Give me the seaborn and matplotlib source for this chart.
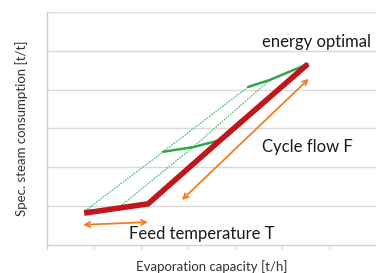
import matplotlib
matplotlib.use("Agg")
import matplotlib.pyplot as plt
import seaborn as sns
import pandas as pd

sns.set_theme(style="white")
plt.rcParams['font.family'] = ['Lato', 'DejaVu Sans']

# Main operating line (red)
red_x = [0.79, 2.15, 3.64, 5.55]
red_y = [0.82, 1.06, 2.65, 4.66]
# Dotted green operating lines
dot_upper_x = [0.81, 2.47, 4.28]
dot_upper_y = [0.88, 2.40, 4.07]
dot_lower_x = [1.49, 3.11, 4.74]
dot_lower_y = [0.93, 2.52, 4.25]
# Solid green cycle-flow curves
green_bottom_x = [0.81, 1.49]
green_bottom_y = [0.88, 0.93]
green_mid_x = [2.47, 3.11, 3.68]
green_mid_y = [2.40, 2.52, 2.70]
green_top_x = [4.28, 4.74, 5.55]
green_top_y = [4.07, 4.25, 4.66]
# Orange double arrows (start, end)
arrow_feed = [(0.77, 0.52), (2.15, 0.59)]
arrow_cycle = [(2.87, 1.16), (5.57, 4.28)]
# Annotations
labels = ["energy optimal", "Cycle flow F", "Feed temperature T"]
label_pos = [(4.57, 5.23), (4.57, 2.52), (1.74, 0.28)]
x_ticks = [0, 1, 2, 3, 4, 5, 6, 7]
y_grid = [1, 2, 3, 4, 5, 6]

fig = plt.figure(figsize=(3.76, 2.73), dpi=100)
ax = fig.add_axes([0.125, 0.1026, 0.875, 0.8535])

def frame(xs, ys):
    return pd.DataFrame({"x": xs, "y": ys})

green_dot = "#63C07F"
green = "#2BA84A"
red = "#C0161C"
orange = "#F07F22"

for xs, ys in [(dot_upper_x, dot_upper_y), (dot_lower_x, dot_lower_y)]:
    sns.lineplot(data=frame(xs, ys), x="x", y="y", ax=ax, color=green_dot,
                 lw=1.0, linestyle=(0, (1.2, 0.8)), sort=False, estimator=None)
for xs, ys in [(green_bottom_x, green_bottom_y), (green_mid_x, green_mid_y), (green_top_x, green_top_y)]:
    sns.lineplot(data=frame(xs, ys), x="x", y="y", ax=ax, color=green,
                 lw=1.8, sort=False, estimator=None)
sns.lineplot(data=frame(red_x, red_y), x="x", y="y", ax=ax, color=red,
             lw=4.0, sort=False, estimator=None, solid_capstyle="butt")

for (x0, y0), (x1, y1) in [arrow_feed, arrow_cycle]:
    ax.annotate("", xy=(x1, y1), xytext=(x0, y0),
                arrowprops=dict(arrowstyle="<->", color=orange, lw=1.3,
                                mutation_scale=9, shrinkA=0, shrinkB=0))

for txt, (tx, ty) in zip(labels, label_pos):
    ax.text(tx, ty, txt, fontsize=12, color="#1a1a1a", va="center", ha="left")

ax.set_xlim(0, 7)
ax.set_ylim(0, 6)
ax.set_xticks(x_ticks)
ax.set_xticklabels([])
ax.set_yticks(y_grid)
ax.set_yticklabels([])
ax.yaxis.grid(True, color="#D9D9D9", lw=1.0)
ax.set_axisbelow(True)
ax.tick_params(axis="x", direction="out", length=3, width=0.8, color="#D0D0D0", bottom=True)
ax.tick_params(axis="y", length=0)
for s in ["top", "right"]:
    ax.spines[s].set_visible(False)
for s in ["left", "bottom"]:
    ax.spines[s].set_color("#D0D0D0")
    ax.spines[s].set_linewidth(1.0)

ax.set_xlabel("Evaporation capacity [t/h]", fontsize=9.5, color="#333333", labelpad=4)
ax.set_ylabel("Spec. steam consumption [t/t]", fontsize=9.5, color="#333333", labelpad=10)

fig.savefig("out.png", dpi=100)
